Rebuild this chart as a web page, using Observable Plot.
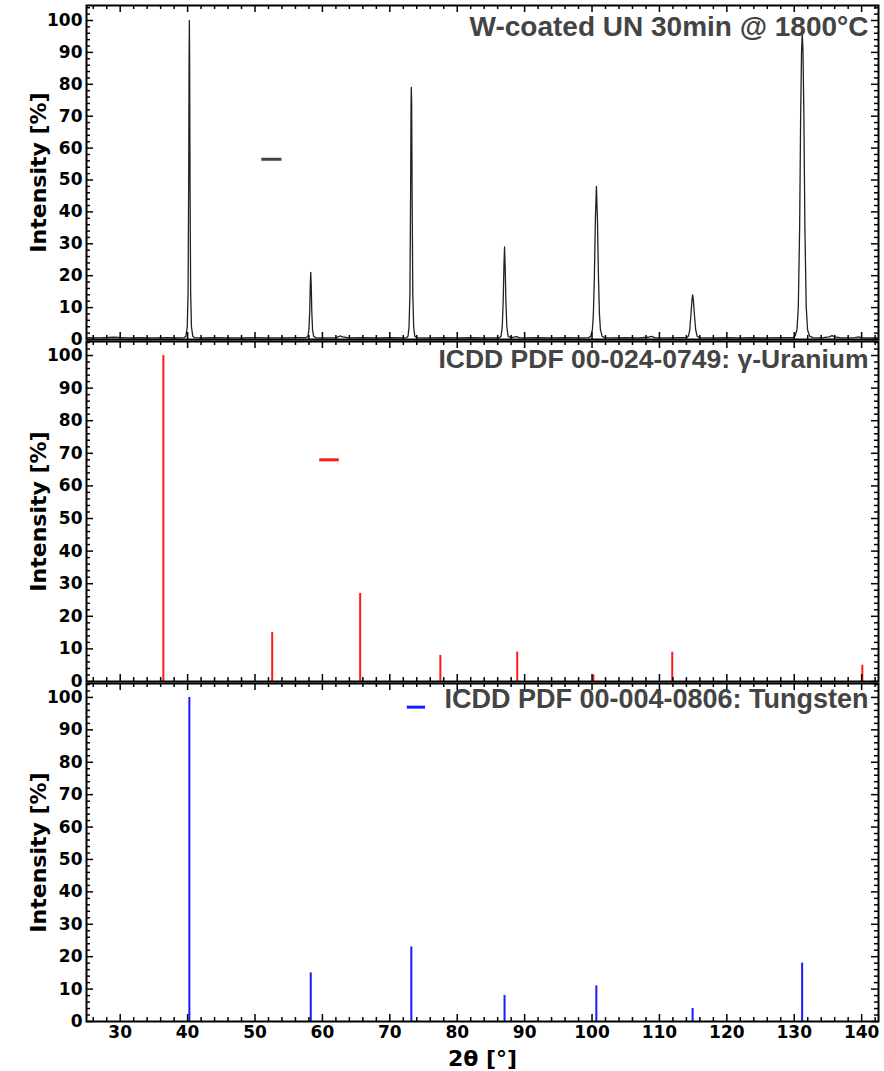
<!DOCTYPE html>
<html>
<head>
<meta charset="utf-8">
<script src="https://cdn.jsdelivr.net/npm/d3@7"></script>
<script src="https://cdn.jsdelivr.net/npm/@observablehq/plot@0.6"></script>
<style>
  html, body { margin: 0; padding: 0; background: white; }
  #chart svg { display: block; }
</style>
</head>
<body>
<div id="chart"></div>
<script>
// ---------- data ----------
const titles = [
  "W-coated UN 30min @ 1800°C",
  "ICDD PDF 00-024-0749: γ-Uranium",
  "ICDD PDF 00-004-0806: Tungsten"
];

const measured2theta = [
  25, 27, 29, 31, 33, 35, 37, 39, 39.5,
  39.75, 39.95, 40.07, 40.16, 40.22, 40.26, 40.30, 40.36, 40.45, 40.57, 40.77, 41.0,
  42, 44, 46, 48, 50, 52, 54, 56, 57.6,
  57.85, 58.0, 58.12, 58.2, 58.27, 58.34, 58.42, 58.54, 58.7, 59.0,
  60, 62, 62.4, 62.7, 63.0, 64, 66, 68, 70, 72, 72.5,
  72.7, 72.85, 72.98, 73.08, 73.15, 73.19, 73.24, 73.31, 73.41, 73.54, 73.7, 74,
  76, 78, 80, 82, 84, 86, 86.3,
  86.5, 86.68, 86.82, 86.93, 87.02, 87.11, 87.22, 87.36, 87.55, 88, 88.8, 89.2,
  90, 92, 94, 96, 98, 99.5,
  99.8, 100.05, 100.2, 100.35, 100.5, 100.65, 100.8, 100.95, 101.1, 101.25, 101.5, 101.9,
  103, 105, 107, 108.3, 108.8, 109.3, 111, 113, 114.0,
  114.3, 114.5, 114.68, 114.83, 114.93, 115.03, 115.18, 115.38, 115.6, 116,
  118, 120, 122, 124, 126, 128, 129.8,
  130.1, 130.4, 130.6, 130.8, 130.95, 131.08, 131.19, 131.3, 131.43, 131.58, 131.78, 131.98, 132.3, 132.8,
  134, 135.2, 135.6, 136.0, 137, 139, 139.6, 140, 142.5
];
const measuredIntensity = [
  0.6, 0.5, 0.7, 0.5, 0.6, 0.5, 0.6, 0.5, 0.6,
  1, 4, 15, 50, 88, 100, 88, 50, 15, 4, 1, 0.6,
  0.5, 0.6, 0.5, 0.5, 0.6, 0.5, 0.5, 0.6, 0.6,
  1, 3, 9, 17, 21, 17, 9, 3, 1, 0.6,
  0.5, 0.6, 0.9, 1.1, 0.8, 0.5, 0.6, 0.5, 0.6, 0.5, 0.6,
  1, 4, 14, 45, 74, 79, 74, 45, 14, 4, 1, 0.6,
  0.5, 0.6, 0.5, 0.6, 0.5, 0.5, 0.6,
  1, 4, 12, 23, 29, 23, 12, 4, 1, 0.6, 0.9, 0.6,
  0.5, 0.6, 0.5, 0.6, 0.5, 0.6,
  1, 3, 8, 20, 38, 48, 38, 20, 8, 3, 1, 0.6,
  0.5, 0.6, 0.5, 0.7, 1.0, 0.6, 0.5, 0.6, 0.6,
  1, 3, 8, 12.5, 14, 12.5, 8, 3, 1, 0.6,
  0.5, 0.6, 0.5, 0.6, 0.5, 0.6, 0.6,
  1, 3, 10, 35, 70, 90, 96, 90, 70, 35, 10, 3, 1, 0.6,
  0.5, 0.8, 1.2, 0.8, 0.5, 0.6, 0.8, 0.5, 0.5
];

// reference pattern γ-Uranium (ICDD 00-024-0749)
const uranium2theta = [36.4, 52.55, 65.6, 77.5, 88.9, 100.2, 111.9, 140.1];
const uraniumIntensity = [100, 15, 27, 8, 9, 2, 9, 5];

// reference pattern Tungsten (ICDD 00-004-0806)
const tungsten2theta = [40.26, 58.27, 73.19, 87.02, 100.64, 114.92, 131.17];
const tungstenIntensity = [100, 15, 23, 8, 11, 4, 18];

// axis ticks
const xMajor = d3.range(30, 141, 10);
const xMinor = d3.range(26, 143, 2).filter(v => v % 10 !== 0);
const yMajor = d3.range(0, 101, 10);
const yMinor = d3.range(2, 105, 2).filter(v => v % 10 !== 0);

// ---------- build ----------
const measured = measured2theta.map((x, i) => ({x, y: measuredIntensity[i]}));
const uranium = uranium2theta.map((x, i) => ({x, y: uraniumIntensity[i]}));
const tungsten = tungsten2theta.map((x, i) => ({x, y: tungstenIntensity[i]}));

const W = 884, ML = 86, MR = 6;
const innerW = W - ML - MR;

function frameTicks(innerH) {
  const s = {stroke: "black", strokeWidth: 1.5};
  return [
    Plot.tickX(xMajor, {x: d => d, insetTop: innerH - 7, ...s}),
    Plot.tickX(xMinor, {x: d => d, insetTop: innerH - 4, ...s}),
    Plot.tickX(xMajor, {x: d => d, insetBottom: innerH - 7, ...s}),
    Plot.tickX(xMinor, {x: d => d, insetBottom: innerH - 4, ...s}),
    Plot.tickY(yMajor, {y: d => d, insetRight: innerW - 7, ...s}),
    Plot.tickY(yMinor, {y: d => d, insetRight: innerW - 4, ...s}),
    Plot.tickY(yMajor, {y: d => d, insetLeft: innerW - 7, ...s}),
    Plot.tickY(yMinor, {y: d => d, insetLeft: innerW - 4, ...s}),
    Plot.frame({stroke: "black", strokeWidth: 2})
  ];
}

function panel({height, marginTop, marginBottom, yDomain, marks, title, titleDy, titleSize, showX}) {
  const innerH = height - marginTop - marginBottom;
  const svg = Plot.plot({
    width: W, height, marginLeft: ML, marginRight: MR, marginTop, marginBottom,
    style: {fontFamily: "DejaVu Sans", fontWeight: "bold", fontSize: "17px", color: "black", background: "white", overflow: "visible"},
    x: {domain: [25, 142.5], ticks: showX ? xMajor : [], tickSize: 0, tickPadding: 4,
        label: showX ? "2θ [°]" : null, labelAnchor: "center", labelOffset: 44, labelArrow: false,
        axis: showX ? "bottom" : null},
    y: {domain: yDomain, ticks: yMajor, tickSize: 0, tickPadding: 4,
        label: "Intensity [%]", labelAnchor: "center", labelOffset: 56, labelArrow: false},
    marks: [
      ...marks,
      ...frameTicks(innerH),
      Plot.text([title], {frameAnchor: "top-right", textAnchor: "end", lineAnchor: "top",
        dx: -10, dy: titleDy, fontSize: titleSize, fontFamily: "Liberation Sans, Arial, sans-serif",
        fontWeight: "bold", fill: "#444"})
    ]
  });
  const yl = svg.querySelector('[aria-label="y-axis label"]');
  if (yl) yl.style.fontSize = "22px";
  const xl = svg.querySelector('[aria-label="x-axis label"]');
  if (xl) xl.style.fontSize = "22px";
  return svg;
}

const root = document.getElementById("chart");

root.append(panel({
  height: 340, marginTop: 5, marginBottom: 1, yDomain: [0, 104.7], title: titles[0], titleDy: 11, titleSize: 28,
  marks: [
    Plot.line(measured, {x: "x", y: "y", stroke: "#222", strokeWidth: 1.3}),
    Plot.ruleY([{y: 56.5, x1: 51, x2: 54}], {y: "y", x1: "x1", x2: "x2", stroke: "#444", strokeWidth: 3})
  ]
}));

root.append(panel({
  height: 342, marginTop: 1, marginBottom: 1, yDomain: [0, 104.3], title: titles[1], titleDy: 8, titleSize: 26.5,
  marks: [
    Plot.ruleX(uranium, {x: "x", y1: 0, y2: "y", stroke: "#ff1a1a", strokeWidth: 2}),
    Plot.ruleY([{y: 68, x1: 59.6, x2: 62.5}], {y: "y", x1: "x1", x2: "x2", stroke: "#ff1a1a", strokeWidth: 3})
  ]
}));

root.append(panel({
  height: 389, marginTop: 1, marginBottom: 50, yDomain: [0, 104.3], title: titles[2], titleDy: 5, titleSize: 27, showX: true,
  marks: [
    Plot.ruleX(tungsten, {x: "x", y1: 0, y2: "y", stroke: "#1a1aff", strokeWidth: 2}),
    Plot.ruleY([{y: 97, x1: 72.6, x2: 75.3}], {y: "y", x1: "x1", x2: "x2", stroke: "#1a1aff", strokeWidth: 3})
  ]
}));
</script>
</body>
</html>
